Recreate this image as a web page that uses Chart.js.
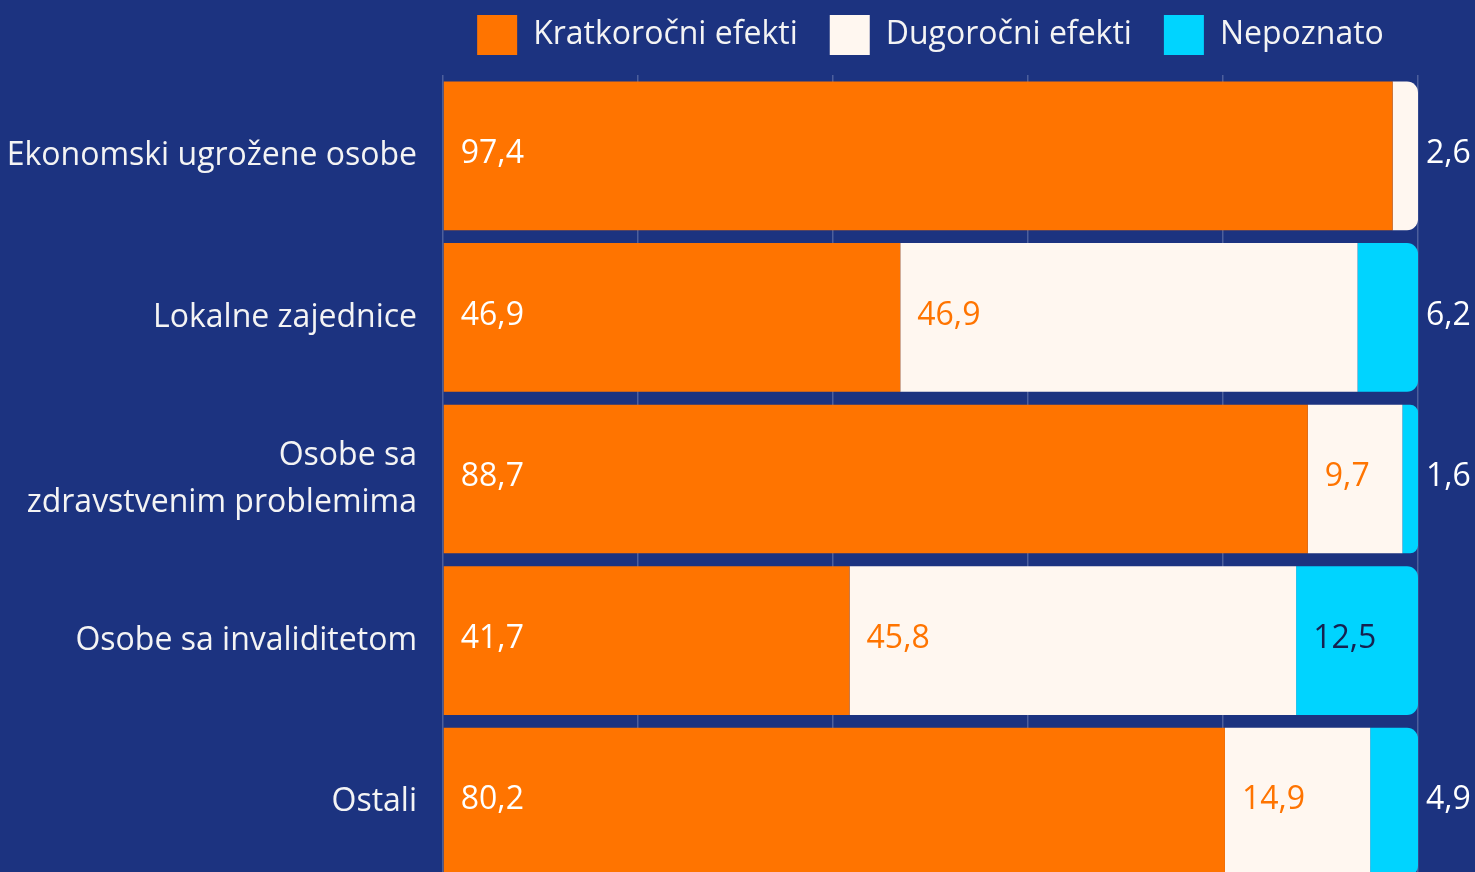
<!DOCTYPE html>
<html>
<head>
<meta charset="utf-8">
<script src="https://cdn.jsdelivr.net/npm/chart.js@4"></script>
<style>
    html, body { margin: 0; padding: 0; background: #1c3380; overflow: hidden; }
    #wrap { width: 1475px; height: 883px; }
</style>
</head>
<body>
<div id="wrap"><canvas id="chart"></canvas></div>
<script>
const categories = [
    'Ekonomski ugrožene osobe',
    'Lokalne zajednice',
    ['Osobe sa', 'zdravstvenim problemima'],
    'Osobe sa invaliditetom',
    'Ostali'
];
const seriesNames = ['Kratkoročni efekti', 'Dugoročni efekti', 'Nepoznato'];
const shortTerm = [97.4, 46.9, 88.7, 41.7, 80.2];
const longTerm = [2.6, 46.9, 9.7, 45.8, 14.9];
const unknown = [0, 6.2, 1.6, 12.5, 4.9];
const xTicks = [0, 20, 40, 60, 80, 100];

const ORANGE = '#ff7400';
const CREAM = '#fff7f0';
const CYAN = '#00d4ff';
const FONT = '"Open Sans", "Noto Sans", sans-serif';

const allSeries = [shortTerm, longTerm, unknown];

// index of the last non-zero segment in a row (gets the rounded end)
function lastSegment(row) {
    let last = 0;
    allSeries.forEach((s, i) => { if (s[row] > 0) last = i; });
    return last;
}

function radius(ctx) {
    if (ctx.type !== 'data') return 0;
    if (lastSegment(ctx.dataIndex) === ctx.datasetIndex) {
        return { topLeft: 0, bottomLeft: 0, topRight: 11, bottomRight: 11 };
    }
    return 0;
}

// value labels inside / right of the bars
const valueLabels = {
    id: 'valueLabels',
    afterDatasetsDraw(chart) {
        const c = chart.ctx;
        const area = chart.chartArea;
        c.save();
        c.font = '32px ' + FONT;
        c.textBaseline = 'middle';
        c.textAlign = 'left';
        chart.data.datasets.forEach((ds, di) => {
            const meta = chart.getDatasetMeta(di);
            meta.data.forEach((bar, row) => {
                const v = ds.data[row];
                if (!v) return;
                const p = bar.getProps(['x', 'y', 'base'], true);
                const text = v.toFixed(1).replace('.', ',');
                const isLast = lastSegment(row) === di;
                let x = p.base + 17;
                let color = di === 0 ? '#ffffff' : di === 1 ? ORANGE : '#16214f';
                if (isLast && v < 8) {
                    x = area.right + 8;
                    color = '#ffffff';
                }
                c.fillStyle = color;
                c.fillText(text, x, p.y - 2);
            });
        });
        c.restore();
    }
};

const ctx = document.getElementById('chart');

new Chart(ctx, {
    type: 'bar',
    data: {
        labels: categories,
        datasets: [
            { label: seriesNames[0], data: shortTerm, backgroundColor: ORANGE },
            { label: seriesNames[1], data: longTerm, backgroundColor: CREAM },
            { label: seriesNames[2], data: unknown, backgroundColor: CYAN }
        ]
    },
    options: {
        indexAxis: 'y',
        responsive: true,
        maintainAspectRatio: false,
        animation: false,
        layout: { padding: { top: -17, right: 57, left: 0, bottom: 0 } },
        datasets: {
            bar: {
                borderWidth: 0,
                borderRadius: radius,
                borderSkipped: false,
                barPercentage: 0.92,
                categoryPercentage: 1
            }
        },
        scales: {
            x: {
                stacked: true,
                position: 'top',
                min: 0,
                max: 100,
                afterBuildTicks: (scale) => { scale.ticks = xTicks.map(v => ({ value: v })); },
                ticks: { display: false },
                grid: { color: 'rgba(255,255,255,0.22)', lineWidth: 1.5, tickColor: 'transparent', tickLength: 10 },
                border: { display: false }
            },
            y: {
                stacked: true,
                // fixed axis width, and no extra label padding at the ends
                afterFit: (scale) => {
                    scale.width = 443;
                    scale.paddingTop = 0;
                    scale.paddingBottom = 0;
                },
                grid: { display: false, drawTicks: false },
                border: { display: false },
                ticks: {
                    color: '#f4f4f4',
                    padding: 26,
                    font: { family: FONT, size: 32, lineHeight: 1.47 }
                }
            }
        },
        plugins: {
            legend: {
                position: 'top',
                fullSize: false,
                align: 'center',
                labels: {
                    color: '#f4f4f4',
                    boxWidth: 40,
                    boxHeight: 40,
                    padding: 32,
                    font: { family: FONT, size: 32 }
                }
            },
            tooltip: { enabled: false }
        }
    },
    plugins: [valueLabels]
});
</script>
</body>
</html>
